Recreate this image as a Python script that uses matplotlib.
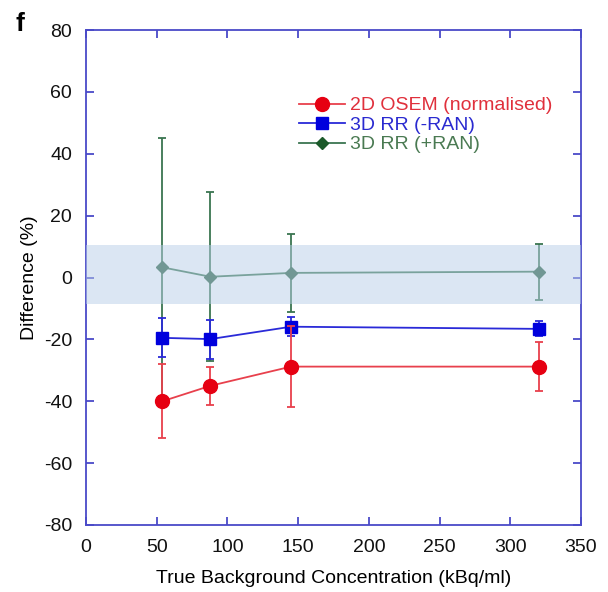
import matplotlib
matplotlib.use("Agg")
import matplotlib.pyplot as plt
from matplotlib.lines import Line2D

plt.rcParams['font.family'] = ['Liberation Sans', 'DejaVu Sans']
plt.rcParams['axes.unicode_minus'] = False

conc = [54, 88, 145, 320]
osem = [-40, -35, -28.8, -28.8]
osem_err = [12, 6.2, 13, 8]
rr_minus = [-19.5, -19.9, -15.9, -16.6]
rr_minus_err = [6.3, 6.3, 3, 2.4]
rr_plus = [3.3, 0.25, 1.5, 1.9]
rr_plus_err = [41.7, 27.3, 12.5, 9.1]
band = (-8.5, 10.5)
labels = ['2D OSEM (normalised)', '3D RR (-RAN)', '3D RR (+RAN)']

red = '#e60012'
red_line = '#e8404c'
blue = '#0000dd'
blue_line = '#2a2ad8'
green_line = '#3a7550'
green_marker = '#2a6040'
spine = '#4a4ac8'

fig = plt.figure(figsize=(6.08, 5.92), dpi=100)
ax = fig.add_axes([0.1414, 0.1132, 0.8141, 0.836])

ax.errorbar(conc, rr_plus, yerr=rr_plus_err, color=green_line, marker='D',
            ms=6, mfc=green_marker, mec=green_marker, lw=1.3, elinewidth=1.3,
            capsize=3, capthick=1.3, zorder=3)
ax.errorbar(conc, rr_minus, yerr=rr_minus_err, color=blue_line, marker='s',
            ms=9, mfc=blue, mec=blue, lw=1.3, elinewidth=1.3,
            capsize=3, capthick=1.3, zorder=4)
ax.errorbar(conc, osem, yerr=osem_err, color=red_line, marker='o',
            ms=10, mfc=red, mec=red, lw=1.3, elinewidth=1.3,
            capsize=3, capthick=1.3, zorder=5)
ax.axhspan(band[0], band[1], color='#b8cfe8', alpha=0.5, lw=0, zorder=3.5)

ax.set_xlim(0, 350)
ax.set_ylim(-80, 80)
ax.set_xticks(range(0, 351, 50))
ax.set_yticks(range(-80, 81, 20))
for s in ax.spines.values():
    s.set_color(spine)
    s.set_linewidth(1.3)
ax.tick_params(direction='in', colors=spine, labelcolor='#111111', length=6,
               width=1.3, labelsize=14, top=True, right=True)
ax.tick_params(axis='y', pad=10)
ax.tick_params(axis='x', pad=10)
ax.set_xlabel('True Background Concentration (kBq/ml)', fontsize=14, labelpad=10)
ax.set_ylabel('Difference (%)', fontsize=14, labelpad=4)

handles = [
    Line2D([], [], color=red_line, marker='o', ms=10, mfc=red, mec=red, lw=1.3),
    Line2D([], [], color=blue_line, marker='s', ms=9, mfc=blue, mec=blue, lw=1.3),
    Line2D([], [], color=green_line, marker='D', ms=6, mfc='#1b5a2a', mec='#1b5a2a', lw=1.3),
]
leg = ax.legend(handles, labels, loc='upper left', bbox_to_anchor=(0.41, 0.885),
                frameon=False, fontsize=14, handlelength=2.4, handletextpad=0.25,
                labelspacing=0.1, borderpad=0)
for t, c in zip(leg.get_texts(), ['#e0303c', '#2a2ad0', '#4a7a52']):
    t.set_color(c)

fig.text(0.025, 0.98, 'f', fontsize=19, fontweight='bold', va='top', ha='left')

fig.savefig('out.png', dpi=100)
